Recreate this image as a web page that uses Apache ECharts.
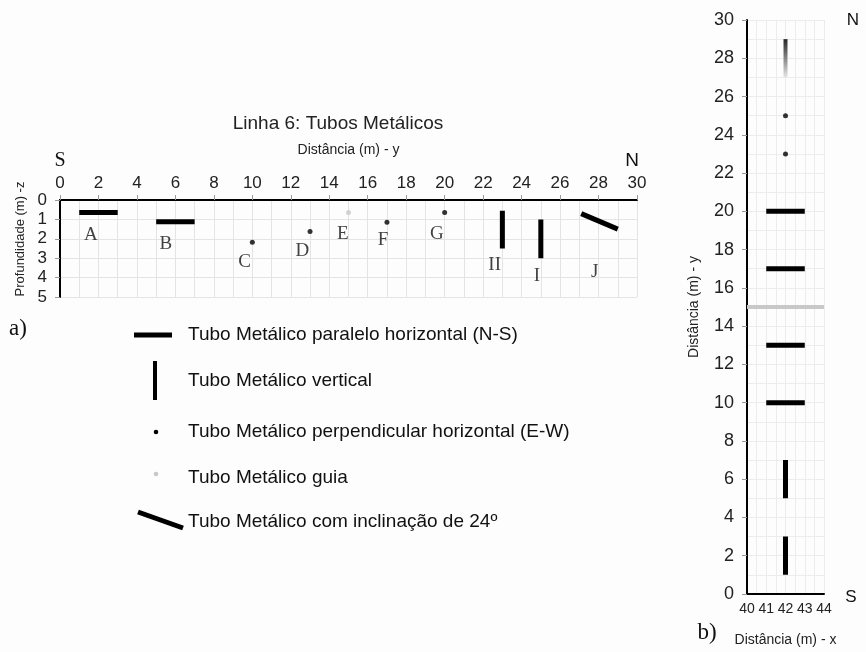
<!DOCTYPE html>
<html><head><meta charset="utf-8">
<script src="https://cdn.jsdelivr.net/npm/echarts@6/dist/echarts.min.js"></script>
<style>html,body{margin:0;padding:0;background:#fdfdfd}#c{width:866px;height:652px}</style>
</head><body><div id="c"></div>
<script>
// ---- a) Profile (Linha 6): y distance (m) vs depth z (m)
const profileXTicks = [0,2,4,6,8,10,12,14,16,18,20,22,24,26,28,30];
const profileDepthTicks = [0,1,2,3,4,5];
const profileHorizontal = [[1,3,0.65],[5,7,1.12]];          // [yStart, yEnd, depth]
const profileVertical = [[23,0.55,2.5],[25,1.0,3.0]];       // [y, depthTop, depthBottom]
const profileDots = [[10,2.18],[13,1.63],[17,1.15],[20,0.65]];
const profileGuide = [[15,0.65]];
const profileInclined = [[27.1,0.7,29.0,1.5]];              // [y0, z0, y1, z1]
const profileLabels = [['A',1.6,1.8],['B',5.5,2.25],['C',9.6,3.2],['D',12.6,2.65],['E',14.7,1.75],
  ['F',16.8,2.05],['G',19.6,1.75],['II',22.6,3.35],['I',24.8,3.92],['J',27.8,3.7]];

// ---- b) Plan view: x distance (m) vs y distance (m)
const planHorizontal = [[41,43,20],[41,43,17],[41,43,13],[41,43,10]]; // [xStart, xEnd, y]
const planVertical = [[42,1,3],[42,5,7]];                              // [x, yStart, yEnd]
const planDots = [[42,23],[42,25]];
const planGuideGradient = [[42,27,29]];                                // [x, yStart, yEnd]
const planGuideLine = [[40,44,15]];                                    // [xStart, xEnd, y]

const legendItems = ['Tubo Metálico paralelo horizontal (N-S)','Tubo Metálico vertical',
  'Tubo Metálico perpendicular horizontal (E-W)','Tubo Metálico guia','Tubo Metálico com inclinação de 24º'];

const SANS = 'Liberation Sans, Arial, sans-serif';
const SERIF = 'Liberation Serif, Times New Roman, serif';
const chart = echarts.init(document.getElementById('c'));
const series = [];
function seg(xi, yi, pts, color, w) {
  series.push({type:'line', xAxisIndex:xi, yAxisIndex:yi, data:pts, symbol:'none', silent:true,
    lineStyle:{color:color, width:w, cap:'butt'}, z:5, animation:false});
}
profileHorizontal.forEach(d => seg(0,0,[[d[0],d[2]],[d[1],d[2]]],'#000',5));
profileVertical.forEach(d => seg(0,0,[[d[0],d[1]],[d[0],d[2]]],'#000',5));
profileInclined.forEach(d => seg(0,0,[[d[0],d[1]],[d[2],d[3]]],'#000',5));
series.push({type:'scatter', xAxisIndex:0, yAxisIndex:0, data:profileDots, symbolSize:5, itemStyle:{color:'#000'}, animation:false});
series.push({type:'scatter', xAxisIndex:0, yAxisIndex:0, data:profileGuide, symbolSize:5, itemStyle:{color:'#c8c8c8'}, animation:false});
series.push({type:'scatter', xAxisIndex:0, yAxisIndex:0, data:profileLabels.map(l=>[l[1],l[2],l[0]]), symbolSize:0,
  label:{show:true, position:'inside', formatter:p=>p.value[2], fontFamily:SERIF, fontSize:19, color:'#111'}, animation:false});

planHorizontal.forEach(d => seg(1,1,[[d[0],d[2]],[d[1],d[2]]],'#000',5));
planVertical.forEach(d => seg(1,1,[[d[0],d[1]],[d[0],d[2]]],'#000',5));
planGuideLine.forEach(d => seg(1,1,[[d[0],d[2]],[d[1],d[2]]],'#c8c8c8',4));
planGuideGradient.forEach(d => seg(1,1,[[d[0],d[2]],[d[0],d[1]]],
  new echarts.graphic.LinearGradient(0,0,0,1,[{offset:0,color:'#1a1a1a'},{offset:1,color:'#f2f2f2'}]),4));
series.push({type:'scatter', xAxisIndex:1, yAxisIndex:1, data:planDots, symbolSize:5, itemStyle:{color:'#000'}, animation:false});

const gridCol = '#e4e4e4';
const legendG = [];
const ly = [335, 381, 432, 478, 522];
legendItems.forEach((t,i)=>legendG.push({type:'text', style:{text:t, font:'19px '+SANS, fill:'#111', x:188, y:ly[i], verticalAlign:'middle'}}));
legendG.push({type:'line', shape:{x1:134,y1:335,x2:172,y2:335}, style:{stroke:'#000', lineWidth:5}});
legendG.push({type:'line', shape:{x1:155,y1:361,x2:155,y2:400}, style:{stroke:'#000', lineWidth:4}});
legendG.push({type:'circle', shape:{cx:156,cy:432,r:2.3}, style:{fill:'#000'}});
legendG.push({type:'circle', shape:{cx:156,cy:474,r:2.3}, style:{fill:'#c8c8c8'}});
legendG.push({type:'line', shape:{x1:138,y1:512,x2:183,y2:528}, style:{stroke:'#000', lineWidth:5}});

chart.setOption({
  backgroundColor:'#fdfdfd',
  animation:false,
  grid:[{left:60, top:200, width:577, height:97},
        {left:747, top:20, width:77, height:577}],
  xAxis:[
    {type:'value', gridIndex:0, position:'top', min:0, max:30, interval:2,
     name:'Distância (m) - y', nameLocation:'middle', nameGap:43, nameTextStyle:{fontFamily:SANS, fontSize:14, color:'#222'},
     axisLine:{onZero:false, lineStyle:{color:'#000', width:2}}, axisTick:{show:true, length:5, lineStyle:{color:'#999'}},
     axisLabel:{fontFamily:SANS, fontSize:17, color:'#222', margin:8, formatter:v=>profileXTicks.includes(v)?String(v):''},
     splitLine:{show:true, lineStyle:{color:gridCol}}, minorTick:{show:false, splitNumber:2}, minorSplitLine:{show:true, lineStyle:{color:gridCol}}},
    {type:'value', gridIndex:1, position:'bottom', min:40, max:44, interval:0.5,
     name:'Distância (m) - x', nameLocation:'middle', nameGap:39, nameTextStyle:{fontFamily:SANS, fontSize:14, color:'#222'},
     axisLine:{onZero:false, lineStyle:{color:'#000', width:2}}, axisTick:{show:false},
     axisLabel:{fontFamily:SANS, fontSize:14, color:'#222', margin:8, formatter:v=>Number.isInteger(v)?String(v):''},
     splitLine:{show:true, lineStyle:{color:'#ececec'}}}
  ],
  yAxis:[
    {type:'value', gridIndex:0, inverse:true, min:0, max:5, interval:1,
     axisLine:{onZero:false, lineStyle:{color:'#000', width:2}}, axisTick:{show:true, length:5, lineStyle:{color:'#999'}},
     axisLabel:{fontFamily:SANS, fontSize:17, color:'#222', margin:13, formatter:v=>profileDepthTicks.includes(v)?String(v):''},
     splitLine:{show:true, lineStyle:{color:gridCol}}},
    {type:'value', gridIndex:1, min:0, max:30, interval:2,
     name:'Distância (m) - y', nameLocation:'middle', nameGap:46, nameRotate:90, nameTextStyle:{fontFamily:SANS, fontSize:14, color:'#222'},
     axisLine:{onZero:false, lineStyle:{color:'#000', width:2}}, axisTick:{show:true, length:5, lineStyle:{color:'#999'}},
     axisLabel:{fontFamily:SANS, fontSize:18, color:'#222', margin:13},
     splitLine:{show:true, lineStyle:{color:'#ececec'}}, minorTick:{show:false, splitNumber:2}, minorSplitLine:{show:true, lineStyle:{color:'#ececec'}}}
  ],
  graphic:[
    {type:'text', style:{text:'Linha 6: Tubos Metálicos', font:'19px '+SANS, fill:'#222', x:338, y:124, align:'center', verticalAlign:'middle'}},
    {type:'text', x:20, y:239, rotation:Math.PI/2, style:{text:'Profundidade (m) -z', font:'13px '+SANS, fill:'#222', x:0, y:0, align:'center', verticalAlign:'middle'}},
    {type:'text', style:{text:'S', font:'20px '+SERIF, fill:'#111', x:60, y:161, align:'center', verticalAlign:'middle'}},
    {type:'text', style:{text:'N', font:'19px '+SANS, fill:'#111', x:632, y:161, align:'center', verticalAlign:'middle'}},
    {type:'text', style:{text:'N', font:'17px '+SANS, fill:'#111', x:853, y:20, align:'center', verticalAlign:'middle'}},
    {type:'text', style:{text:'S', font:'17px '+SANS, fill:'#111', x:851, y:597, align:'center', verticalAlign:'middle'}},
    {type:'text', style:{text:'a)', font:'23px '+SERIF, fill:'#111', x:18, y:329, align:'center', verticalAlign:'middle'}},
    {type:'text', style:{text:'b)', font:'23px '+SERIF, fill:'#111', x:707, y:633, align:'center', verticalAlign:'middle'}}
  ].concat(legendG),
  series:series
});
</script></body></html>
